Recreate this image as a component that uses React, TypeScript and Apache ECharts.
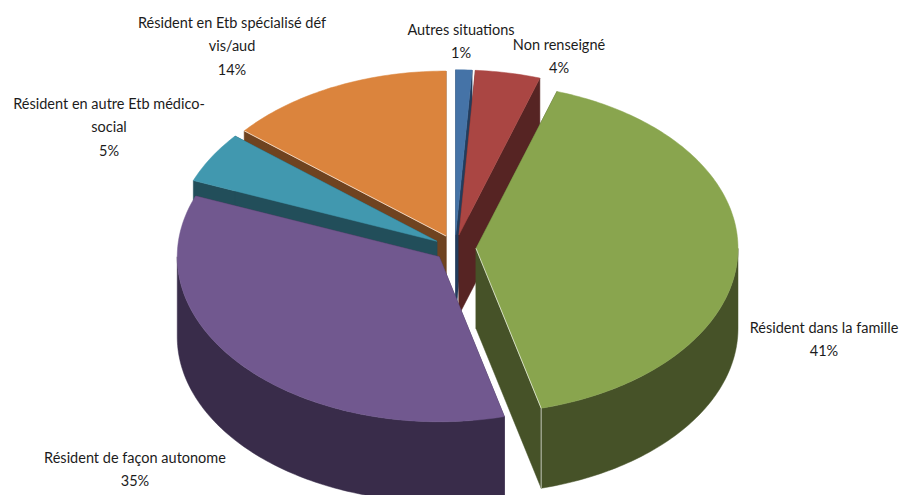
import React, { useEffect, useRef } from "react";
import * as echarts from "echarts";

// Situation de résidence, en pourcentage
const categories = [
  "Autres situations",
  "Non renseigné",
  "Résident dans la famille",
  "Résident de façon autonome",
  "Résident en autre Etb médico-\nsocial",
  "Résident en Etb spécialisé déf\nvis/aud",
];
const values = [1, 4, 41, 35, 5, 14];

const topColors = ["#4573A7", "#AA4643", "#89A54E", "#71588F", "#4198AF", "#DB843D"];
const wallColors = ["#233C5C", "#562423", "#465228", "#392C4A", "#224E5A", "#6F4320"];

// Slices further back are painted first so the nearer solids cover them.
const paintOrder = [0, 1, 5, 4, 2, 3];

const labelAnchors: [number, number][] = [
  [461, 29],
  [559, 44],
  [824, 327],
  [135, 457],
  [109, 103],
  [232, 22],
];

const CX = 455;
const CY = 248;
const RX = 262;
const RY = 165;
const DEPTH = 80;
const EXPLODE = 21;
const FIRST_ANGLE = 0;
const FONT = "Lato";
const LINE_HEIGHT = 23.5;
const GLINT = "rgba(255,255,255,0.65)";

const total = values.reduce((a, b) => a + b, 0);
const starts = values.map((_, i) => values.slice(0, i).reduce((a, b) => a + b, 0));

const rad = (deg: number) => (deg * Math.PI) / 180;

function renderSlice(_params: any, api: any) {
  const index = api.value(0);
  const t0 = FIRST_ANGLE + (api.value(1) / total) * 360;
  const t1 = t0 + (api.value(2) / total) * 360;
  const mid = rad((t0 + t1) / 2);
  const ax = CX + EXPLODE * Math.sin(mid);
  const ay = CY - EXPLODE * (RY / RX) * Math.cos(mid);
  const rim = (deg: number, drop = 0): number[] => [
    ax + RX * Math.sin(rad(deg)),
    ay - RY * Math.cos(rad(deg)) + drop,
  ];
  const sweep = (from: number, to: number, drop = 0): number[][] => {
    const pts: number[][] = [];
    const steps = Math.max(1, Math.ceil(to - from));
    for (let k = 0; k <= steps; k++) pts.push(rim(from + ((to - from) * k) / steps, drop));
    return pts;
  };
  const wall = wallColors[index];
  const poly = (points: number[][], fill: string) => ({
    type: "polygon",
    shape: { points },
    style: { fill, stroke: fill, lineWidth: 0.5 },
  });
  const glint = (points: number[][]) => ({
    type: "polyline",
    shape: { points },
    style: { fill: "none", stroke: GLINT, lineWidth: 1 },
  });

  const children: any[] = [];
  // Radial cut faces
  for (const t of [t0, t1]) {
    children.push(poly([[ax, ay], rim(t), rim(t, DEPTH), [ax, ay + DEPTH]], wall));
  }
  // Outer rim, only where it faces the viewer
  const a = Math.max(t0, 90);
  const b = Math.min(t1, 270);
  if (b > a) {
    children.push(poly([...sweep(a, b), ...sweep(a, b, DEPTH).reverse()], wall));
  }
  // Top face
  children.push(poly([[ax, ay], ...sweep(t0, t1)], topColors[index]));
  // Light catching the sharp edges of the two widest open cuts
  if (index === 2) {
    children.push(glint([[ax, ay], rim(t1), rim(t1, DEPTH)]));
  }
  if (index === 5) {
    children.push(glint([rim(t0), [ax, ay]]));
  }
  return { type: "group", children };
}

export default function App() {
  const ref = useRef<HTMLDivElement>(null);
  useEffect(() => {
    const chart = echarts.init(ref.current!, undefined, { renderer: "svg" });
    chart.setOption({
      animation: false,
      backgroundColor: "#ffffff",
      series: [
        {
          type: "custom",
          coordinateSystem: "none",
          renderItem: renderSlice,
          data: paintOrder.map((i) => [i, starts[i], values[i]]),
          silent: true,
        },
      ],
      graphic: categories.map((name, i) => ({
        type: "text",
        x: labelAnchors[i][0],
        y: labelAnchors[i][1] - LINE_HEIGHT / 2,
        z: 10,
        style: {
          text: `${name}\n${values[i]}%`,
          fill: "#1c1c1c",
          font: `14.5px ${FONT}`,
          lineHeight: LINE_HEIGHT,
          align: "center",
          verticalAlign: "top",
        },
      })),
    });
    return () => chart.dispose();
  }, []);
  return (
    <div
      ref={ref}
      style={{ position: "fixed", left: 0, top: 0, width: 900, height: 495 }}
    />
  );
}
